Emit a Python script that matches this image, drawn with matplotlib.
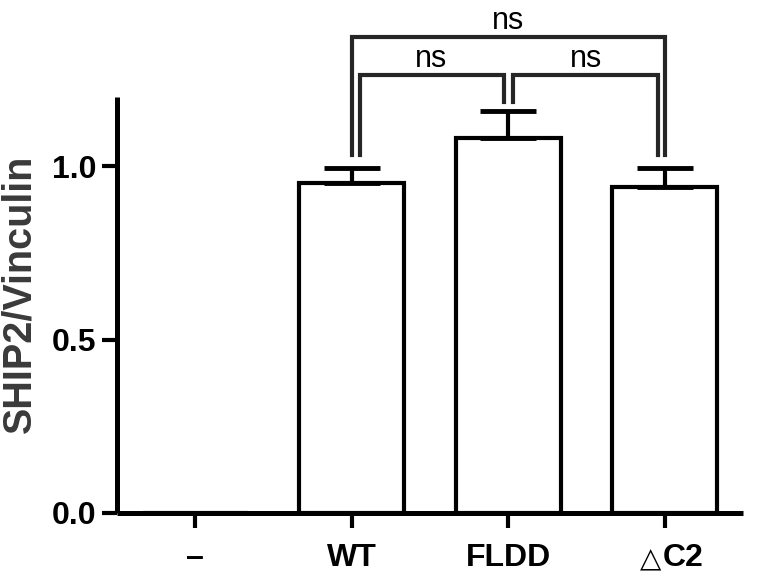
import numpy as np
import matplotlib
matplotlib.use("Agg")
import matplotlib.pyplot as plt
from matplotlib.transforms import ScaledTranslation

plt.rcParams["font.family"] = ["Liberation Sans", "DejaVu Sans"]

# ── Data ──────────────────────────────────────────────────────────────────────
groups = ["–", "WT", "FLDD", "C2"]   # last one gets a small "△" in front
means = [0.0, 0.951, 1.081, 0.939]
errs = [0.0, 0.043, 0.078, 0.055]

# significance brackets: (x_left, x_right, y_top, leg_left, leg_right, label)
brackets = [
    (1.0, 3.0, 1.373, 1.033, 1.033, "ns"),
    (1.05, 1.97, 1.263, 1.033, 1.185, "ns"),
    (2.03, 2.96, 1.263, 1.185, 1.033, "ns"),
]

# ── Plot ──────────────────────────────────────────────────────────────────────
fig = plt.figure(figsize=(7.57, 5.84), dpi=100)
ax = fig.add_axes([117 / 757, 71 / 584, 626 / 757, 416 / 584])

x = np.arange(len(groups))
ax.bar(x, means, width=0.67, color="white", edgecolor="black", linewidth=3, zorder=2)
ax.errorbar(x[1:], means[1:], yerr=[np.zeros(3), errs[1:]], fmt="none",
            ecolor="black", elinewidth=3, capsize=20, capthick=3.5, zorder=3)

for xl, xr, yt, yl, yr, lab in brackets:
    ax.plot([xl, xl, xr, xr], [yl, yt, yt, yr], color="#262626", lw=3,
            solid_joinstyle="miter", clip_on=False, zorder=4)
    ax.text((xl + xr) / 2, yt + 0.004, lab, ha="center", va="bottom",
            fontsize=22, color="black", clip_on=False)

ax.set_xlim(-0.5, 3.5)
ax.set_ylim(0, 1.2)
ax.set_yticks([0.0, 0.5, 1.0])
ax.set_yticklabels(["0.0", "0.5", "1.0"])
ax.set_xticks(x)
ax.set_xticklabels(groups)

for s in ["top", "right"]:
    ax.spines[s].set_visible(False)
for s in ["left", "bottom"]:
    ax.spines[s].set_linewidth(3.6)
    ax.spines[s].set_capstyle("butt")

ax.tick_params(axis="both", direction="out", length=11, width=3, pad=4)
ax.tick_params(axis="x", pad=10.5)
for lab in ax.get_xticklabels() + ax.get_yticklabels():
    lab.set_fontsize(23)
    lab.set_fontweight("bold")

# shift "C2" right to make room for the small triangle
last = ax.xaxis.get_major_ticks()[-1].label1
last.set_transform(last.get_transform() + ScaledTranslation(0.18, 0, fig.dpi_scale_trans))
ax.annotate("△", xy=(x[-1], 0), xycoords=("data", "axes fraction"),
            xytext=(-10, -39), textcoords="offset points",
            ha="center", va="baseline", fontsize=20, family="DejaVu Sans",
            annotation_clip=False)

ax.set_ylabel("SHIP2/Vinculin", fontsize=28.5, fontweight="bold", color="#3a3a3a")
ax.yaxis.set_label_coords(-0.125, 0.527)

fig.savefig("out.png", dpi=100)
